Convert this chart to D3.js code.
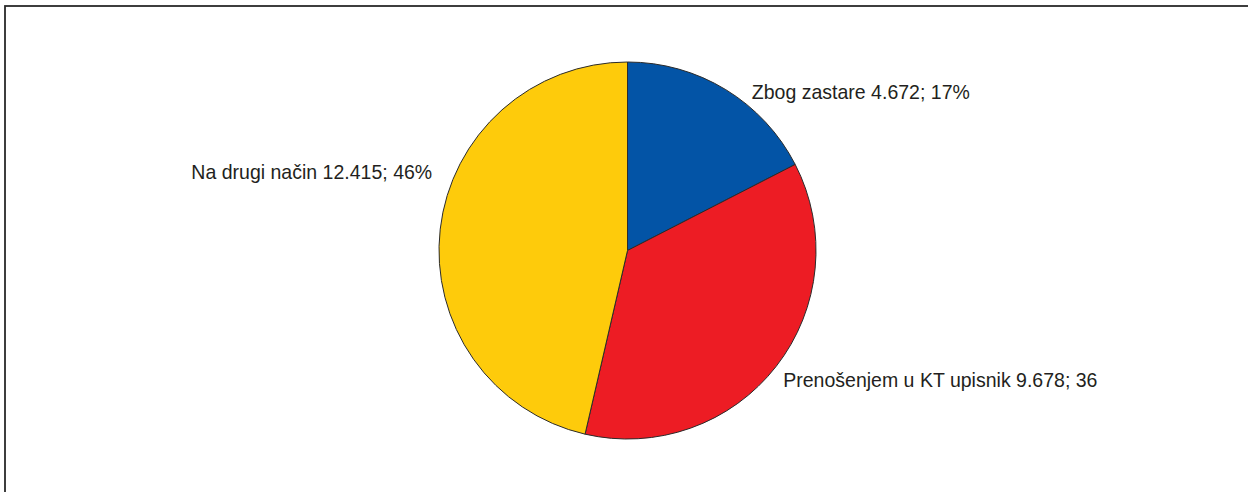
<!DOCTYPE html>
<html>
<head>
<meta charset="utf-8">
<script src="https://cdn.jsdelivr.net/npm/d3@7"></script>
<style>
  html, body { margin: 0; padding: 0; background: #fff; }
  svg { display: block; }
</style>
</head>
<body>
<svg id="chart" width="1248" height="492"></svg>
<script>
// Slices, clockwise from 12 o'clock
const categories = ["Zbog zastare", "Prenošenjem u KT upisnik", "Na drugi način"];
const values = [4672, 9678, 12415];
const valueLabels = ["4.672", "9.678", "12.415"];
const percentLabels = ["17%", "36", "46%"];
const colors = ["#0354A6", "#ED1C24", "#FECB0B"];

const svg = d3.select("#chart");
const W = 1248, H = 492;

// outer frame (runs past the right and bottom edges)
svg.append("rect")
  .attr("x", 5).attr("y", 6)
  .attr("width", W + 20).attr("height", H + 20)
  .attr("fill", "none")
  .attr("stroke", "#2a2a2a")
  .attr("stroke-width", 1.8);

const cx = 627.5, cy = 250.5, r = 188.5;

const pie = d3.pie().sort(null).value(d => d)(values);
const arc = d3.arc().innerRadius(0).outerRadius(r);

const g = svg.append("g").attr("transform", `translate(${cx},${cy})`);

g.selectAll("path")
  .data(pie)
  .join("path")
  .attr("d", arc)
  .attr("fill", (d, i) => colors[i])
  .attr("stroke", "#2b2b2b")
  .attr("stroke-width", 1)
  .attr("stroke-linejoin", "round");

// label placement relative to the outer point at each slice's mid-angle
const labelOffsets = [
  { dx: 26, dy: 9.8, anchor: "start" },
  { dx: 7, dy: 21, anchor: "start" },
  { dx: -8, dy: -50.5, anchor: "end" }
];

g.selectAll("text")
  .data(pie)
  .join("text")
  .attr("transform", (d, i) => {
    const a = (d.startAngle + d.endAngle) / 2;
    const x = r * Math.sin(a) + labelOffsets[i].dx;
    const y = -r * Math.cos(a) + labelOffsets[i].dy;
    return `translate(${x},${y}) scale(0.93,1)`;
  })
  .attr("text-anchor", (d, i) => labelOffsets[i].anchor)
  .attr("font-family", "'Liberation Sans', Arial, sans-serif")
  .attr("font-size", 21)
  .attr("fill", "#231f20")
  .text((d, i) => `${categories[i]} ${valueLabels[i]}; ${percentLabels[i]}`);
</script>
</body>
</html>
